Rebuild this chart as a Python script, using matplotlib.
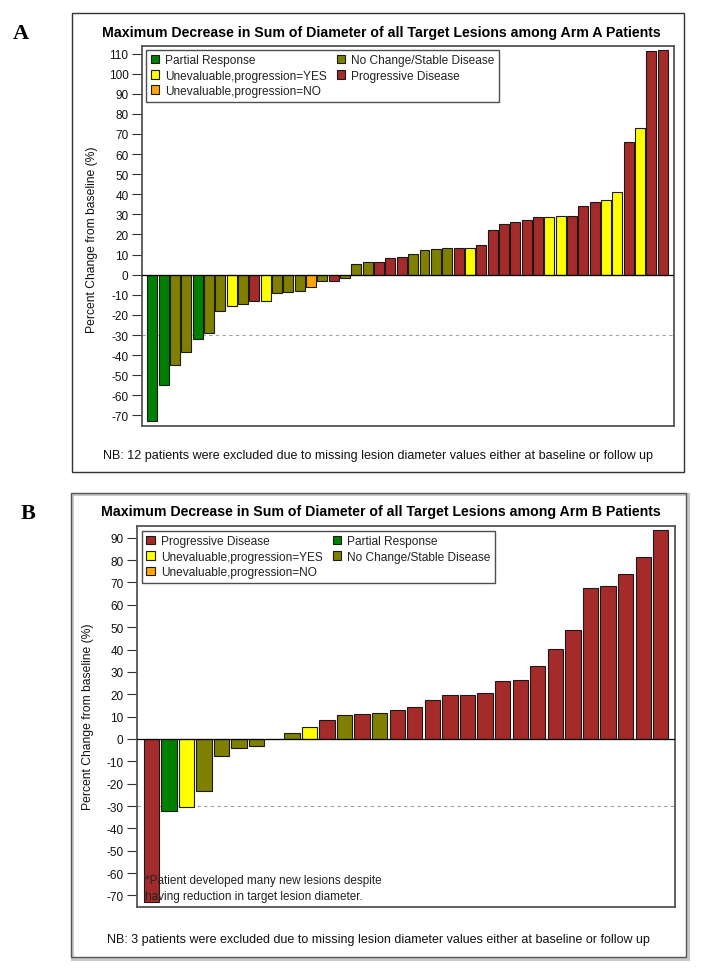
import matplotlib
matplotlib.use("Agg")
import matplotlib.pyplot as plt
from matplotlib.patches import Patch, Rectangle

plt.rcParams['font.family'] = ['Liberation Sans', 'DejaVu Sans']

# ---------------- data ----------------
cat_colors = {"PR": "#008000", "YES": "#FFFF00", "NO": "#FFA500", "SD": "#808000", "PD": "#A52A2A"}
cat_labels = {"PR": "Partial Response", "YES": "Unevaluable,progression=YES",
              "NO": "Unevaluable,progression=NO", "SD": "No Change/Stable Disease",
              "PD": "Progressive Disease"}

arm_a_values = [-73, -55, -45, -38.6, -32, -29, -18, -15.8, -14.4, -12.9, -12.9, -9.1, -8.6, -8.1,
                -6.3, -3.3, -3.0, -1.5, 5.3, 6.1, 6.1, 8.1, 8.6, 10.1, 12.1, 12.6, 13.4, 13.4, 13.4,
                14.9, 22.2, 25.4, 26.4, 27.4, 28.7, 28.7, 29.2, 29.2, 34.0, 36.3, 37.3, 41.1, 66.0,
                73.1, 111.3, 111.8]
arm_a_resp = ["PR", "PR", "SD", "SD", "PR", "SD", "SD", "YES", "SD", "PD", "YES", "SD", "SD", "SD",
              "NO", "SD", "PD", "SD", "SD", "SD", "PD", "PD", "PD", "SD", "SD", "SD", "SD", "PD", "YES",
              "PD", "PD", "PD", "PD", "PD", "PD", "YES", "YES", "PD", "PD", "PD", "YES", "YES", "PD",
              "YES", "PD", "PD"]

arm_b_values = [-73.1, -32.2, -30.6, -23.1, -7.8, -3.9, -3.1, 0.0, 2.7, 5.2, 8.4, 10.9, 11.3, 11.8,
                13.0, 14.3, 17.3, 19.8, 19.8, 20.7, 26.0, 26.4, 32.5, 40.1, 48.8, 67.7, 68.6, 73.7,
                81.4, 93.5]
arm_b_resp = ["PD", "PR", "YES", "SD", "SD", "SD", "SD", "SD", "SD", "YES", "PD", "SD", "PD", "SD",
              "PD", "PD", "PD", "PD", "PD", "PD", "PD", "PD", "PD", "PD", "PD", "PD", "PD", "PD",
              "PD", "PD"]

title_a = "Maximum Decrease in Sum of Diameter of all Target Lesions among Arm A Patients"
title_b = "Maximum Decrease in Sum of Diameter of all Target Lesions among Arm B Patients"
note_a = "NB: 12 patients were excluded due to missing lesion diameter values either at baseline or follow up"
note_b = "NB: 3 patients were excluded due to missing lesion diameter values either at baseline or follow up"
star_note = "*Patient developed many new lesions despite\nhaving reduction in target lesion diameter."
ylabel = "Percent Change from baseline (%)"
legend_order_a = ["PR", "YES", "NO", "SD", "PD"]
legend_order_b = ["PD", "YES", "NO", "PR", "SD"]
yticks_a = list(range(-70, 111, 10))
yticks_b = list(range(-70, 91, 10))

# ---------------- layout helpers ----------------
W, H = 701, 970
fig = plt.figure(figsize=(W / 100, H / 100), dpi=100)


def fx(x):
    return x / W


def fy(y):
    return 1 - y / H


def add_axes_px(x0, y0, x1, y1):
    return fig.add_axes([fx(x0), fy(y1), fx(x1) - fx(x0), (y1 - y0) / H])


def draw_panel(ax, values, resp, yticks, ylim, xlim, legend_order, legend_bbox, width):
    xs = list(range(len(values)))
    colors = [cat_colors[r] for r in resp]
    ax.bar(xs, values, width=width, color=colors, edgecolor="#1a1a1a", linewidth=0.8, zorder=3)
    ax.axhline(0, color="black", linewidth=0.9, zorder=4)
    ax.axhline(-30, color="#a0a0a0", linewidth=0.8, linestyle=(0, (3, 3)), zorder=2)
    ax.set_xlim(*xlim)
    ax.set_ylim(*ylim)
    ax.set_xticks([])
    ax.set_yticks(yticks)
    ax.set_yticklabels([str(t) for t in yticks])
    ax.tick_params(axis="y", direction="out", length=7, width=0.8, pad=2.5, labelsize=8.5,
                   color="#333333", labelcolor="#111111")
    for s in ax.spines.values():
        s.set_color("#555555")
        s.set_linewidth(1.3)
    handles = [Patch(facecolor=cat_colors[k], edgecolor="#1a1a1a", linewidth=0.8,
                     label=cat_labels[k]) for k in legend_order]
    leg = ax.legend(handles=handles, ncol=2, loc="upper left", bbox_to_anchor=legend_bbox,
                    frameon=True, fancybox=False, fontsize=8.6, handlelength=0.7,
                    handleheight=0.7, handletextpad=0.5, columnspacing=0.85,
                    labelspacing=0.27, borderpad=0.4, borderaxespad=0.0)
    leg.get_frame().set_edgecolor("#222222")
    leg.get_frame().set_linewidth(1.0)
    leg.set_zorder(6)
    for t in leg.get_texts():
        t.set_color("#222222")
    return leg


# ---------------- Panel A ----------------
fig.patches.append(Rectangle((fx(72.3), fy(472.7)), fx(684.3) - fx(72.3), (472.7 - 14) / H,
                             transform=fig.transFigure, fill=False, edgecolor="#333333",
                             linewidth=1.0))
fig.text(fx(21), fy(34), "A", fontsize=16, fontweight="bold", family="Liberation Serif",
         ha="center", va="center")
fig.text(fx(381), fy(33), title_a, fontsize=10.2, fontweight="bold", ha="center", va="center")

axA = add_axes_px(141.7, 46.7, 674.3, 427.3)
draw_panel(axA, arm_a_values, arm_a_resp, yticks_a, (-75.4, 113.9), (-0.94, 46.03),
           legend_order_a, (0.008, 0.99), 0.88)
fig.text(fx(92), fy(240), ylabel, rotation=90, fontsize=8.7, ha="center", va="center",
         color="#111111")
fig.text(fx(378), fy(456), note_a, fontsize=9.0, ha="center", va="center", color="#111111")

# ---------------- Panel B ----------------
fig.patches.append(Rectangle((fx(72.0), fy(959.5)), fx(687.5) - fx(72.0), (959.5 - 495) / H,
                             transform=fig.transFigure, fill=False, edgecolor="#c8c8c8",
                             linewidth=2.2))
fig.patches.append(Rectangle((fx(70.7), fy(958)), fx(686) - fx(70.7), (958 - 493.5) / H,
                             transform=fig.transFigure, fill=False, edgecolor="#555555",
                             linewidth=1.0))
fig.text(fx(28), fy(514), "B", fontsize=16, fontweight="bold", family="Liberation Serif",
         ha="center", va="center")
fig.text(fx(381), fy(512), title_b, fontsize=10.2, fontweight="bold", ha="center", va="center")

axB = add_axes_px(136.7, 526.7, 675.0, 908.3)
draw_panel(axB, arm_b_values, arm_b_resp, yticks_b, (-75.3, 95.4), (-0.83, 29.81),
           legend_order_b, (0.009, 0.987), 0.875)
fig.text(fx(88), fy(717), ylabel, rotation=90, fontsize=8.7, ha="center", va="center",
         color="#111111")
axB.text(0.015, 0.05, star_note, transform=axB.transAxes, fontsize=8.5, ha="left",
         va="center", color="#222222", linespacing=1.4, zorder=7)
fig.text(fx(378), fy(940), note_b, fontsize=9.0, ha="center", va="center", color="#111111")

fig.savefig("out.png", dpi=100)
